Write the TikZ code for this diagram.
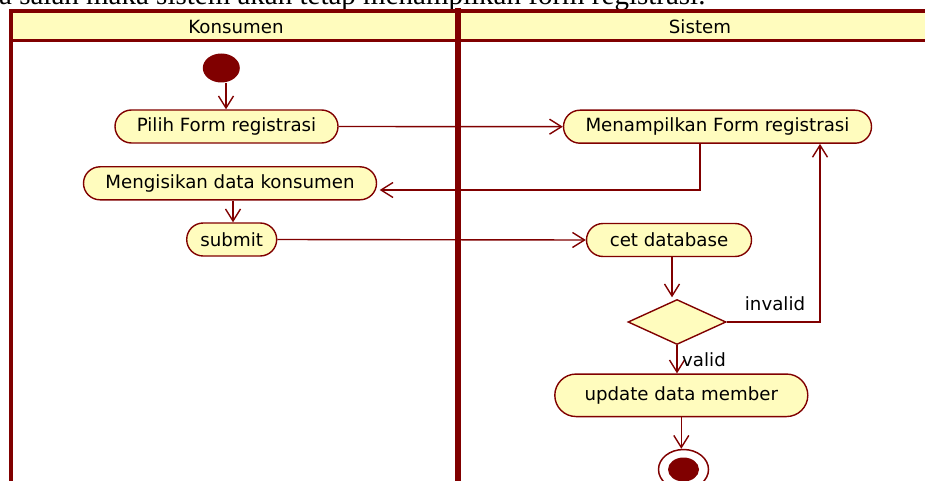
\documentclass[tikz,border=0pt]{standalone}
\usepackage{fontspec}
\setmainfont{DejaVu Sans}
\newfontfamily\bodyserif{Liberation Serif}
\usetikzlibrary{arrows.meta,shapes.geometric,shapes.misc,calc}

\definecolor{umlred}{RGB}{128,0,0}
\definecolor{umlfill}{RGB}{255,252,190}

\tikzset{
  lbl/.style={font=\fontsize{18.2}{20}\selectfont, text=black, inner sep=0pt},
  action/.style={rounded rectangle, draw=umlred, fill=umlfill, line width=1.4pt,
    minimum height=33pt, inner xsep=2pt, inner ysep=0pt, lbl},
  flow/.style={draw=umlred, line width=1.4pt,
    -{Straight Barb[length=12pt,width=15pt,line width=1.4pt]}},
  lanewall/.style={draw=umlred, line cap=rect},
}

\begin{document}
\begin{tikzpicture}[x=1pt,y=-1pt]
  \useasboundingbox (0,0) rectangle (925,481);
  \clip (0,0) rectangle (925,481);

  % running text of the page above the diagram
  \node[anchor=base west, inner sep=0pt, font=\bodyserif\fontsize{29}{30}\selectfont]
    (pagetext) at (-1,5) {a salah maka sistem akan tetap menampilkan form registrasi.};

  % swimlane headers and walls
  \fill[umlfill] (11,11) rectangle (940,41);
  \draw[lanewall, line width=3pt] (11,41) -- (940,41);
  \draw[lanewall, line width=4pt] (11,11) -- (940,11);
  \draw[lanewall, line width=4pt] (11,11) -- (11,490);
  \draw[lanewall, line width=6pt] (458,11) -- (458,490);

  \node[lbl] (hk) at (236,27) {Konsumen};
  \node[lbl] (hs) at (700,27) {Sistem};

  % start and final states
  \node[ellipse, fill=umlred, minimum width=37pt, minimum height=29pt, inner sep=0pt]
    (start) at (221.3,68) {};
  \node[ellipse, draw=umlred, line width=1.5pt, fill=white, minimum width=50pt,
    minimum height=40pt, inner sep=0pt] (endo) at (683.5,469.5) {};
  \node[ellipse, fill=umlred, minimum width=31pt, minimum height=24pt, inner sep=0pt]
    (endi) at (683.5,469.5) {};

  % actions
  \node[action, minimum width=223pt] (pilih)  at (226.5,126.5) {Pilih Form registrasi};
  \node[action, minimum width=293pt] (isi)    at (230,183.3)   {Mengisikan data konsumen};
  \node[action, minimum width=90pt]  (submit) at (231.7,239.5) {submit};
  \node[action, minimum width=308pt] (tampil) at (717.5,126.7) {Menampilkan Form registrasi};
  \node[action, minimum width=165pt] (cet)    at (669,240)     {cet database};
  \node[action, minimum width=253pt, minimum height=42.5pt] (upd) at (681.3,395.3) {update data member};

  % decision
  \node[diamond, draw=umlred, fill=umlfill, line width=1.4pt, inner sep=0pt,
    shape aspect=2.2, minimum width=98pt, minimum height=45pt] (dec) at (677,322) {};

  % helper points for the routed connectors
  \coordinate (turn) at (700,190);
  \coordinate (back) at (820,0);

  % control flows
  \draw[flow] (start.south -| 226,0) -- (pilih.north -| 226,0);
  \draw[flow] (pilih.east) -- (tampil.west);
  \draw[flow] (tampil.south -| turn) |- ($(isi.east)+(2.5,6.7)$);
  \draw[flow] (isi.south -| 233,0) -- (submit.north -| 233,0);
  \draw[flow] (submit.east) -- (cet.west);
  \draw[flow] ($(cet.south)+(3,0)$) -- ($(dec.north)+(-5,-1.5)$);
  \draw[flow] (dec.east) -| (tampil.south -| back);
  \draw[flow] (dec.south) -- (dec.south |- upd.north);
  \draw[flow] (upd.south) -- (upd.south |- endo.north);

  % guards
  \node[lbl] (ginvalid) at (775,304) {invalid};
  \node[lbl] (gvalid)   at (704,360) {valid};
\end{tikzpicture}
\end{document}
